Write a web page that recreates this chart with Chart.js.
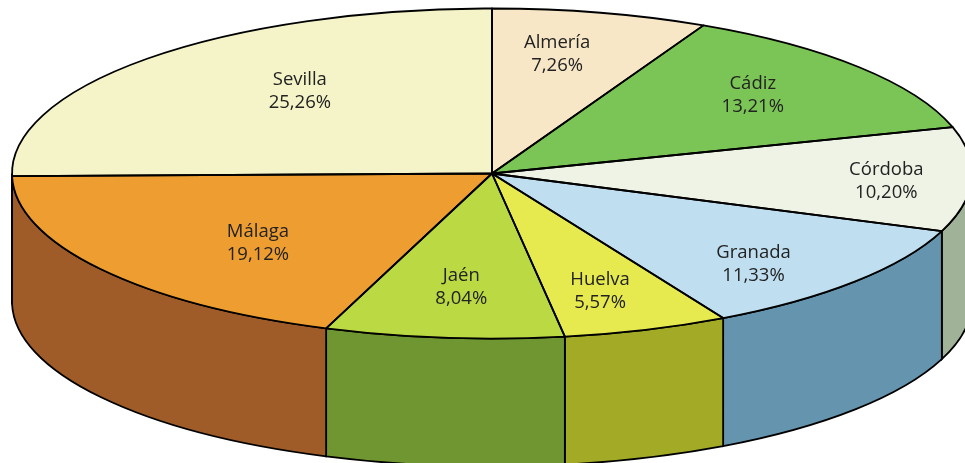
<!DOCTYPE html>
<html lang="es">
<head>
<meta charset="utf-8">
<title>Andalucía</title>
<script src="https://cdn.jsdelivr.net/npm/chart.js@4/dist/chart.umd.min.js"></script>
<style>
  html, body { margin: 0; padding: 0; background: #fff; overflow: hidden; }
  canvas { display: block; }
</style>
</head>
<body>
<canvas id="chart" width="965" height="463"></canvas>
<script>
const provincias = ["Almería", "Cádiz", "Córdoba", "Granada", "Huelva", "Jaén", "Málaga", "Sevilla"];
const porcentajes = [7.26, 13.21, 10.20, 11.33, 5.57, 8.04, 19.12, 25.26];

const COLORES_TAPA = ["#f7e7c6", "#7bc557", "#eef3e5", "#bfdff0", "#e6ea4f", "#bbd943", "#ee9e30", "#f5f4c8"];
const COLORES_LADO = ["#a8987a", "#4f8a35", "#a0b298", "#6594ae", "#a3aa25", "#6f9631", "#9f5c28", "#9f5c28"];

// Geometría de la elipse en pantalla
const ELIPSE = { cx: 492, cy: 173.5, rx: 480, ry: 165, fondo: 128 };
// Fracción del radio (x, y) en la que va cada etiqueta
const POS_ETIQUETAS = [
  [0.60, 0.74], [0.71, 0.74], [0.822, 1.27], [0.72, 0.84],
  [0.70, 0.755], [0.64, 0.69], [0.598, 0.725], [0.5615, 0.708]
];

const LINEA = 1.8;

function trazarLados(ctx, arcos) {
  const { cx, cy, rx, ry, fondo } = ELIPSE;
  arcos.forEach((arco, i) => {
    const a0 = Math.max(arco.startAngle, 0);
    const a1 = Math.min(arco.endAngle, Math.PI);
    if (a1 <= a0) return;
    ctx.beginPath();
    ctx.ellipse(cx, cy, rx, ry, 0, a0, a1);
    ctx.ellipse(cx, cy + fondo, rx, ry, 0, a1, a0, true);
    ctx.closePath();
    ctx.fillStyle = COLORES_LADO[i];
    ctx.fill();
    ctx.stroke();
  });
}

function trazarBordes(ctx, arcos) {
  const { cx, cy, rx, ry } = ELIPSE;
  arcos.forEach((arco) => {
    ctx.beginPath();
    ctx.moveTo(cx, cy);
    ctx.ellipse(cx, cy, rx, ry, 0, arco.startAngle, arco.endAngle);
    ctx.closePath();
    ctx.stroke();
  });
}

function trazarEtiquetas(ctx, arcos) {
  const { cx, cy, rx, ry } = ELIPSE;
  ctx.fillStyle = "#222";
  ctx.font = '18.5px "Open Sans", sans-serif';
  ctx.textAlign = "center";
  ctx.textBaseline = "middle";
  arcos.forEach((arco, i) => {
    const medio = (arco.startAngle + arco.endAngle) / 2;
    const x = cx + rx * POS_ETIQUETAS[i][0] * Math.cos(medio);
    const y = cy + ry * POS_ETIQUETAS[i][1] * Math.sin(medio);
    ctx.fillText(provincias[i], x, y - 11.5);
    ctx.fillText(porcentajes[i].toFixed(2).replace(".", ",") + "%", x, y + 11.5);
  });
}

/** Chart.js solo dibuja círculos: aplastamos la tarta y añadimos el lateral */
const tarta3d = {
  id: "tarta3d",
  beforeDatasetsDraw(chart) {
    const ctx = chart.ctx;
    const arcos = chart.getDatasetMeta(0).data;
    const { cx, cy, rx, ry } = ELIPSE;
    ctx.save();
    ctx.lineWidth = LINEA;
    ctx.strokeStyle = "#000";
    trazarLados(ctx, arcos);
    ctx.restore();

    const r = arcos[0].outerRadius;
    ctx.save();
    ctx.translate(cx, cy);
    ctx.scale(rx / r, ry / r);
    ctx.translate(-arcos[0].x, -arcos[0].y);
  },
  afterDatasetsDraw(chart) {
    const ctx = chart.ctx;
    const arcos = chart.getDatasetMeta(0).data;
    ctx.restore();
    ctx.save();
    ctx.lineWidth = LINEA;
    ctx.strokeStyle = "#000";
    ctx.lineJoin = "round";
    trazarBordes(ctx, arcos);
    trazarEtiquetas(ctx, arcos);
    ctx.restore();
  }
};

new Chart(document.getElementById("chart"), {
  type: "pie",
  data: {
    labels: provincias,
    datasets: [{
      data: porcentajes,
      backgroundColor: COLORES_TAPA,
      borderWidth: 0,
      clip: false
    }]
  },
  options: {
    responsive: false,
    animation: false,
    layout: { padding: 0 },
    plugins: { legend: { display: false }, tooltip: { enabled: false } }
  },
  plugins: [tarta3d]
});
</script>
</body>
</html>
